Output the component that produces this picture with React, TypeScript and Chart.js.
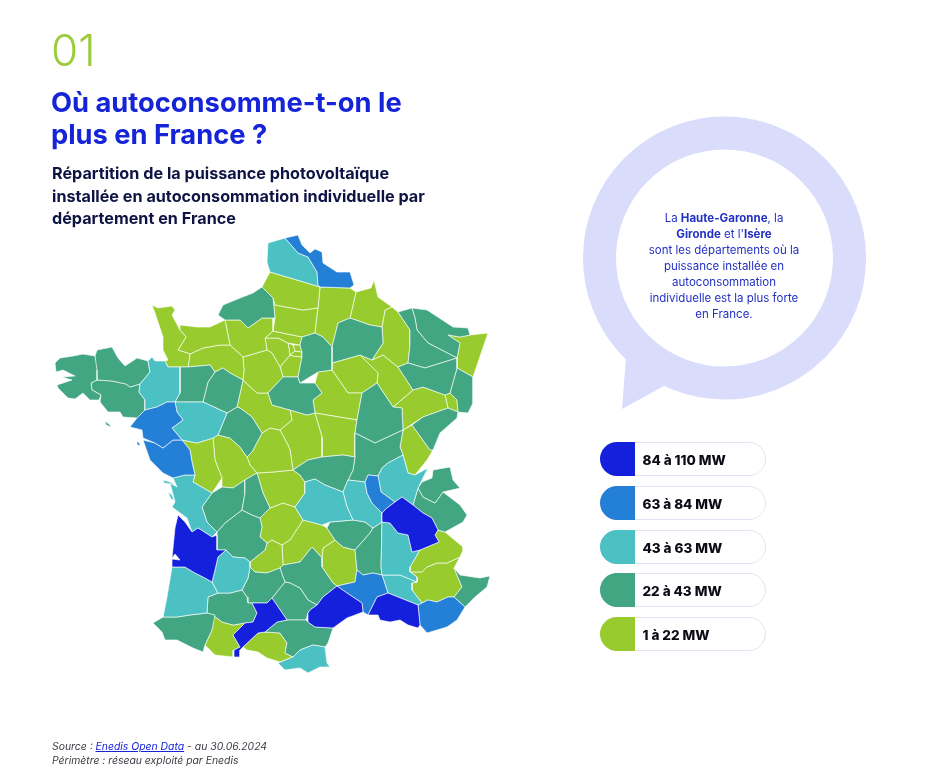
import React, { useEffect, useRef } from 'react';
import { Chart, registerables } from 'chart.js';

Chart.register(...registerables);

// departments per legend class
const band1to22 = ['Manche', 'Calvados', 'Orne', 'Eure', 'Eure-et-Loir', 'Loir-et-Cher', 'Deux-Sèvres', 'Vienne', 'Indre', 'Cher', 'Nièvre', 'Creuse', 'Corrèze', 'Lot', 'Hautes-Pyrénées', 'Ariège', 'Cantal', 'Lozère', 'Hautes-Alpes', 'Alpes-de-Haute-Provence', 'Somme', 'Aisne', 'Oise', "Val-d'Oise", 'Yvelines', 'Hauts-de-Seine', 'Seine-Saint-Denis', 'Val-de-Marne', 'Paris', 'Essonne', 'Yonne', 'Aube', 'Ardennes', 'Meuse', 'Haute-Marne', 'Haute-Saône', 'Belfort', 'Jura', 'Bas-Rhin'];
const band22to43 = ['Finistère', "Côtes-d'Armor", 'Morbihan', 'Belle-Île', 'Mayenne', 'Sarthe', 'Seine-Maritime', 'Indre-et-Loire', 'Haute-Vienne', 'Charente', 'Dordogne', 'Pyrénées-Atlantiques', 'Gers', 'Aude', 'Tarn-et-Garonne', 'Tarn', 'Aveyron', 'Allier', 'Saône-et-Loire', 'Haute-Savoie', 'Savoie', 'Ardèche', 'Haute-Loire', 'Alpes-Maritimes', 'Seine-et-Marne', 'Loiret', 'Marne', "Côte-d'Or", 'Doubs', 'Vosges', 'Meurthe-et-Moselle', 'Moselle', 'Haut-Rhin'];
const band43to63 = ['Ille-et-Vilaine', 'Maine-et-Loire', 'Charente-Maritime', 'Ré', 'Oléron', 'Lot-et-Garonne', 'Landes', 'Pyrénées-Orientales', 'Puy-de-Dôme', 'Loire', 'Ain', 'Drôme', 'Vaucluse', 'Pas-de-Calais'];
const band63to84 = ['Loire-Atlantique', 'Vendée', 'Noirmoutier', 'Rhône', 'Gard', 'Var', 'Nord'];
const band84to110 = ['Gironde', 'Haute-Garonne', 'Isère', 'Hérault', 'Bouches-du-Rhône'];

const bandMembers = [band84to110, band63to84, band43to63, band22to43, band1to22];
const bandLabels = ['84 à 110 MW', '63 à 84 MW', '43 à 63 MW', '22 à 43 MW', '1 à 22 MW'];
const bandColors = ['#1520dc', '#2380d6', '#4bc1c3', '#41a681', '#98cc2e'];

// outlines in map units, x then y
const outlines: Record<string, number[]> = {
  'Finistère': [55,363, 60,358, 73,356, 83,354, 95,356, 97,370, 97,380, 91,383, 92,390, 101,395, 99,400, 90,400, 83,393, 75,399, 68,398, 58,388, 57,385, 72,380, 62,377, 75,376, 63,370, 56,372],
  "Côtes-d'Armor": [95,356, 97,350, 112,347, 118,358, 125,366, 137,358, 148,361, 150,372, 140,384, 130,387, 126,384, 112,381, 97,380],
  'Morbihan': [91,383, 97,380, 112,381, 126,384, 130,387, 140,384, 139,392, 145,400, 145,410, 137,418, 123,417, 120,412, 108,412, 100,402, 101,395, 92,390],
  'Belle-Île': [105,421, 110,425, 111,427, 106,425],
  'Ille-et-Vilaine': [148,361, 152,357, 155,361, 165,361, 168,367, 180,367, 180,393, 175,402, 167,402, 157,407, 145,410, 145,400, 139,392, 140,384, 150,372],
  'Manche': [152,305, 158,308, 172,306, 175,310, 172,315, 180,330, 186,337, 178,350, 190,354, 188,367, 180,367, 168,367, 165,361, 168,360, 163,350, 163,337, 155,313],
  'Calvados': [180,325, 197,327, 210,327, 225,320, 230,345, 220,345, 203,348, 190,354, 178,350, 186,337, 180,330],
  'Orne': [190,354, 203,348, 220,345, 230,345, 243,357, 244,370, 243,380, 230,373, 223,368, 215,372, 210,365, 188,367],
  'Mayenne': [180,367, 188,367, 210,365, 215,372, 208,382, 203,402, 175,402, 180,393],
  'Sarthe': [215,372, 223,368, 230,373, 243,380, 237,407, 227,413, 203,402, 208,382],
  'Eure': [225,320, 240,320, 248,328, 262,318, 273,318, 273,331, 265,338, 267,350, 243,357, 230,345],
  'Seine-Maritime': [218,315, 223,305, 240,298, 253,293, 262,287, 273,298, 275,318, 262,318, 248,328, 240,320, 225,320],
  'Eure-et-Loir': [243,357, 267,350, 272,353, 280,367, 283,377, 268,393, 257,393, 243,380, 244,370],
  'Loir-et-Cher': [243,380, 257,393, 268,393, 272,405, 290,410, 292,420, 280,430, 270,428, 262,433, 252,417, 240,408, 237,407],
  'Indre-et-Loire': [218,435, 227,413, 237,407, 240,408, 252,417, 262,433, 252,452, 247,457, 240,447, 230,438],
  'Maine-et-Loire': [175,402, 203,402, 227,413, 218,435, 213,438, 197,443, 182,440, 172,428, 183,420, 177,412],
  'Loire-Atlantique': [145,410, 157,407, 167,402, 175,402, 177,412, 183,420, 172,428, 182,440, 173,440, 163,448, 155,443, 143,438, 142,430, 130,427, 137,418],
  'Vendée': [143,440, 155,443, 163,448, 173,440, 182,440, 190,450, 192,462, 195,475, 185,475, 173,478, 163,473, 150,460],
  'Noirmoutier': [137,441, 140,444, 139,446, 137,444],
  'Deux-Sèvres': [182,440, 197,443, 213,438, 215,460, 222,478, 212,493, 193,482, 195,475, 192,462, 190,450],
  'Vienne': [213,438, 218,435, 230,438, 240,447, 247,457, 250,465, 257,473, 245,480, 233,488, 222,487, 222,478, 215,460],
  'Indre': [252,452, 262,433, 270,428, 280,430, 288,445, 290,450, 293,470, 273,472, 257,473, 250,465, 247,457],
  'Cher': [290,410, 307,415, 315,413, 322,437, 322,457, 308,460, 293,470, 290,450, 288,445, 280,430, 292,420],
  'Nièvre': [315,413, 357,420, 355,433, 355,457, 343,455, 322,457, 322,437],
  'Allier': [293,470, 308,460, 322,457, 343,455, 355,457, 353,470, 348,480, 343,492, 325,485, 315,479, 305,482, 300,475],
  'Creuse': [257,473, 273,472, 293,470, 300,475, 305,482, 305,493, 295,507, 283,503, 270,508, 263,493],
  'Haute-Vienne': [245,480, 257,473, 263,493, 270,508, 260,518, 252,515, 242,510, 245,493],
  'Charente': [202,507, 212,493, 222,487, 233,488, 245,480, 245,493, 242,510, 225,523, 217,532, 207,522],
  'Charente-Maritime': [173,478, 185,475, 195,475, 193,482, 212,493, 202,507, 207,522, 217,532, 212,537, 198,528, 192,532, 187,518, 172,507, 175,502, 170,483, 177,487],
  'Ré': [163,480, 170,482, 175,484, 170,484, 164,483],
  'Oléron': [168,492, 172,495, 174,500, 171,499],
  'Gironde': [178,515, 185,522, 192,532, 198,528, 212,537, 217,535, 217,550, 226,550, 218,557, 215,570, 212,582, 205,578, 195,573, 185,567, 172,567, 172,559, 180,560, 175,554, 172,558, 175,528],
  'Dordogne': [217,532, 225,523, 242,510, 252,515, 260,518, 262,527, 260,537, 267,543, 265,550, 250,562, 245,558, 233,557, 226,550, 217,550, 217,535],
  'Corrèze': [260,518, 270,508, 283,503, 295,507, 303,520, 290,540, 282,545, 272,540, 267,543, 260,537, 262,527],
  'Lot': [267,543, 272,540, 282,545, 283,565, 280,568, 267,573, 255,572, 250,567, 250,562, 265,550],
  'Lot-et-Garonne': [215,570, 218,557, 226,550, 233,557, 245,558, 250,562, 250,567, 248,578, 242,590, 230,593, 218,593, 212,582],
  'Landes': [172,567, 185,567, 195,573, 205,578, 212,582, 218,593, 208,597, 207,613, 190,615, 177,617, 163,617, 167,597],
  'Pyrénées-Atlantiques': [153,623, 163,617, 177,617, 190,615, 207,613, 215,615, 212,630, 205,645, 203,652, 193,648, 177,640, 165,640, 162,632],
  'Gers': [208,597, 218,593, 230,593, 242,590, 247,597, 248,603, 252,603, 257,613, 253,622, 245,623, 233,625, 222,622, 213,615, 207,613],
  'Hautes-Pyrénées': [213,615, 222,622, 233,625, 245,623, 233,635, 240,647, 234,650, 233,657, 215,655, 205,645, 212,630],
  'Haute-Garonne': [252,603, 267,603, 272,598, 287,620, 277,622, 265,632, 258,633, 243,647, 240,650, 240,657, 233,657, 234,650, 240,647, 233,635, 245,623, 253,622, 257,613],
  'Ariège': [243,647, 258,633, 265,632, 280,633, 287,643, 285,653, 293,657, 280,662, 267,658, 258,652, 247,650],
  'Aude': [265,632, 277,622, 287,620, 297,620, 306,620, 308,622, 315,627, 333,628, 328,643, 325,647, 313,645, 300,650, 293,657, 285,653, 287,643, 280,633],
  'Pyrénées-Orientales': [278,663, 293,657, 300,650, 313,645, 325,647, 327,663, 330,667, 320,667, 308,673, 300,668, 285,670],
  'Tarn-et-Garonne': [248,578, 250,567, 255,572, 267,573, 280,568, 283,577, 285,582, 272,598, 267,603, 252,603, 248,603, 247,597, 242,590],
  'Tarn': [272,598, 285,582, 290,583, 300,588, 308,600, 317,605, 310,610, 308,613, 306,620, 297,620, 287,620],
  'Aveyron': [283,565, 300,562, 312,547, 322,558, 322,567, 333,583, 337,586, 323,597, 317,605, 308,600, 300,588, 290,583, 285,582, 283,577, 280,568],
  'Cantal': [303,520, 322,525, 327,528, 335,540, 323,548, 322,558, 312,547, 300,562, 283,565, 282,545, 290,540],
  'Puy-de-Dôme': [305,482, 315,479, 325,485, 343,492, 347,507, 353,520, 330,522, 322,525, 303,520, 295,507, 305,493],
  'Loire': [343,492, 348,480, 365,482, 367,493, 372,503, 382,513, 382,522, 373,528, 365,522, 353,520, 347,507],
  'Saône-et-Loire': [355,433, 375,443, 403,430, 400,447, 403,455, 388,463, 382,468, 378,476, 368,475, 365,482, 348,480, 353,470, 355,457],
  'Rhône': [365,482, 368,475, 378,476, 381,492, 395,502, 387,508, 382,513, 372,503, 367,493],
  'Ain': [382,468, 388,463, 403,455, 408,473, 415,475, 428,468, 418,488, 413,505, 402,497, 395,502, 381,492, 378,476],
  'Haute-Savoie': [418,488, 422,482, 432,478, 433,470, 450,467, 453,480, 460,488, 443,492, 435,503, 423,497],
  'Savoie': [413,505, 418,488, 423,497, 435,503, 443,492, 460,505, 467,515, 463,522, 445,532, 438,530, 432,518, 423,513],
  'Isère': [382,513, 387,508, 395,502, 402,497, 413,505, 423,513, 432,518, 438,530, 435,535, 439,542, 420,550, 412,552, 408,535, 398,533, 390,523, 382,522],
  'Ardèche': [373,528, 382,522, 381,567, 382,575, 373,573, 363,575, 357,570, 355,550, 370,533],
  'Haute-Loire': [330,522, 353,520, 365,522, 373,528, 370,533, 355,550, 343,547, 335,540, 327,528],
  'Lozère': [323,548, 335,540, 343,547, 355,550, 357,570, 355,582, 337,586, 333,583, 322,567, 322,558],
  'Gard': [337,586, 355,582, 357,570, 363,575, 373,573, 382,575, 388,593, 377,597, 368,615, 363,612, 362,603, 347,593],
  'Hérault': [308,613, 310,610, 317,605, 323,597, 337,586, 347,593, 362,603, 363,612, 347,618, 333,628, 315,627, 308,622],
  'Drôme': [382,522, 390,523, 398,533, 408,535, 412,552, 420,550, 410,567, 410,572, 417,577, 417,582, 400,575, 382,575, 381,567],
  'Vaucluse': [382,575, 400,575, 417,582, 412,583, 412,590, 422,603, 418,605, 388,593],
  'Hautes-Alpes': [435,535, 438,530, 445,532, 463,547, 463,550, 460,557, 447,563, 437,563, 427,567, 422,572, 410,572, 410,567, 420,550, 439,542],
  'Alpes-de-Haute-Provence': [410,572, 422,572, 427,567, 437,563, 447,563, 460,557, 454,568, 462,587, 454,597, 448,597, 437,602, 428,600, 422,603, 412,590, 412,583, 417,582, 417,577],
  'Alpes-Maritimes': [454,568, 460,575, 480,578, 490,576, 487,587, 475,597, 465,607, 454,597, 462,587],
  'Var': [422,603, 428,600, 437,602, 448,597, 454,597, 465,607, 457,620, 447,627, 427,633, 420,625, 418,605],
  'Bouches-du-Rhône': [368,615, 377,597, 388,593, 418,605, 420,625, 418,628, 408,625, 400,620, 390,622, 380,620, 378,615],
  'Nord': [285,238, 298,235, 302,245, 310,253, 315,249, 322,252, 323,263, 337,272, 350,272, 354,285, 350,288, 320,287, 318,285, 317,272, 308,257, 298,253],
  'Pas-de-Calais': [268,243, 285,238, 298,253, 308,257, 317,272, 318,285, 320,287, 297,280, 270,272, 267,262],
  'Somme': [270,272, 297,280, 320,287, 318,308, 303,310, 275,305, 273,298, 262,287],
  'Aisne': [320,287, 350,288, 356,292, 350,318, 338,323, 332,347, 323,337, 315,333, 318,308],
  'Oise': [273,298, 275,305, 303,310, 318,308, 315,333, 302,337, 273,331, 275,318],
  "Val-d'Oise": [265,338, 273,331, 302,337, 300,345, 288,343, 278,338],
  'Yvelines': [265,338, 278,338, 288,343, 290,355, 280,367, 272,353, 267,350],
  'Hauts-de-Seine': [288,343, 293,345, 295,351, 290,355],
  'Seine-Saint-Denis': [293,345, 300,345, 302,352, 295,351],
  'Val-de-Marne': [295,351, 302,352, 302,357, 293,356, 290,355],
  'Paris': [292,349, 296,348, 298,351, 293,352],
  'Essonne': [280,367, 290,355, 293,356, 302,357, 298,377, 283,377],
  'Seine-et-Marne': [302,337, 315,333, 323,337, 332,347, 332,363, 332,370, 318,372, 300,383, 298,377, 302,357, 302,352, 300,345],
  'Loiret': [268,393, 283,377, 298,377, 300,383, 315,383, 322,393, 313,400, 315,413, 307,415, 290,410, 272,405],
  'Yonne': [318,372, 332,370, 348,393, 362,393, 357,420, 315,413, 313,400, 322,393, 315,383],
  'Aube': [332,363, 360,355, 378,373, 377,383, 362,393, 348,393, 332,370],
  'Marne': [338,323, 350,318, 370,325, 382,327, 383,343, 372,360, 360,355, 332,363, 332,347],
  'Ardennes': [356,292, 371,288, 374,280, 378,297, 392,307, 385,310, 382,327, 370,325, 350,318],
  'Meuse': [385,310, 392,307, 398,312, 410,330, 410,345, 408,363, 398,367, 383,355, 372,360, 383,343, 382,327],
  'Haute-Marne': [372,360, 383,355, 398,367, 413,390, 393,407, 377,383, 378,373, 360,355],
  "Côte-d'Or": [362,393, 377,383, 393,407, 402,408, 403,430, 375,443, 355,433, 357,420],
  'Haute-Saône': [413,390, 423,387, 445,395, 448,408, 423,417, 403,430, 402,408, 393,407],
  'Belfort': [445,395, 450,393, 457,400, 458,412, 448,408],
  'Doubs': [412,425, 423,417, 448,408, 458,412, 457,418, 440,433, 433,450, 430,450],
  'Jura': [403,430, 412,425, 430,450, 433,450, 427,460, 415,475, 408,473, 403,455, 400,447],
  'Vosges': [398,367, 408,363, 425,368, 457,358, 457,368, 450,393, 445,395, 423,387, 413,390],
  'Meurthe-et-Moselle': [398,312, 412,308, 415,318, 417,330, 428,343, 457,358, 425,368, 408,363, 410,345, 410,330],
  'Moselle': [412,308, 427,310, 450,325, 453,327, 468,328, 470,335, 460,337, 448,335, 460,343, 457,358, 428,343, 417,330, 415,318],
  'Bas-Rhin': [448,335, 460,337, 470,335, 488,333, 473,377, 457,368, 457,358, 460,343],
  'Haut-Rhin': [457,368, 473,377, 473,403, 468,413, 458,412, 457,400, 450,393],
};

// Etang de Berre, left white on the map
const waterOutline = [395,612, 403,615, 402,620, 396,617];

const bubbleLines = ['sont les départements où la', 'puissance installée en', 'autoconsommation', 'individuelle est la plus forte', 'en France.'];

const toPoints = (flat: number[]) => {
  const pts = [];
  for (let i = 0; i < flat.length; i += 2) pts.push({ x: flat[i], y: flat[i + 1] });
  pts.push({ x: flat[0], y: flat[1] });
  return pts;
};

const polygon = (label: string, flat: number[], color: string, borderWidth: number) => ({
  label,
  data: toPoints(flat),
  showLine: true,
  fill: 'shape',
  backgroundColor: color,
  borderColor: 'rgba(255,255,255,0.9)',
  borderWidth,
  pointRadius: 0,
  tension: 0,
});

const sans = 'Inter, "Noto Sans", sans-serif';

const FranceMap: React.FC = () => {
  const canvasRef = useRef<HTMLCanvasElement>(null);

  useEffect(() => {
    if (!canvasRef.current) return;
    const datasets: any[] = [];
    bandMembers.forEach((names, i) => {
      names.forEach((name) => datasets.push(polygon(name, outlines[name], bandColors[i], 0.7)));
    });
    datasets.push(polygon('Etang de Berre', waterOutline, '#ffffff', 0));

    const chart = new Chart(canvasRef.current, {
      type: 'scatter',
      data: { datasets },
      options: {
        responsive: false,
        animation: false,
        layout: { padding: 0 },
        plugins: { legend: { display: false }, tooltip: { enabled: false } },
        scales: {
          x: { type: 'linear', display: false, min: 0, max: 931 },
          y: { type: 'linear', display: false, min: 0, max: 779, reverse: true },
        },
      },
    });
    return () => chart.destroy();
  }, []);

  return <canvas ref={canvasRef} width={931} height={779} style={{ position: 'absolute', left: 0, top: 0 }} />;
};

export default function App() {
  return (
    <div style={{ position: 'absolute', left: 0, top: 0, width: 931, height: 779, overflow: 'hidden', background: '#fff', fontFamily: sans }}>
      <FranceMap />

      <div style={{ position: 'absolute', left: 51, top: 24, fontSize: 44, lineHeight: '52px', fontWeight: 300, color: '#9ccb3b' }}>01</div>
      <div style={{ position: 'absolute', left: 51, top: 87, width: 400, fontSize: 27.3, lineHeight: '32px', fontWeight: 700, color: '#1624d8' }}>
        Où autoconsomme-t-on le<br />plus en France ?
      </div>
      <div style={{ position: 'absolute', left: 52, top: 162, width: 400, fontSize: 16.2, lineHeight: '22.5px', fontWeight: 700, color: '#0d1343' }}>
        Répartition de la puissance photovoltaïque<br />installée en autoconsommation individuelle par<br />département en France
      </div>

      <svg width={931} height={779} style={{ position: 'absolute', left: 0, top: 0 }}>
        <path d="M626 358 L622 409 L664 386 Z" fill="#d9dcfb" />
        <circle cx={724.5} cy={258} r={125} fill="none" stroke="#d9dcfb" strokeWidth={33} />
      </svg>
      <div style={{ position: 'absolute', left: 624, top: 210, width: 200, textAlign: 'center', fontSize: 11.5, lineHeight: '16px', color: '#2330c4' }}>
        La <b>Haute-Garonne</b>, la<br /><b>Gironde</b> et l'<b>Isère</b>
        {bubbleLines.map((line) => (
          <React.Fragment key={line}><br />{line}</React.Fragment>
        ))}
      </div>

      {bandLabels.map((label, i) => (
        <div key={label} style={{ position: 'absolute', left: 600, top: 442 + i * 43.75, width: 166, height: 34, boxSizing: 'border-box', border: '1px solid #e3e4f3', borderRadius: 17 }}>
          <div style={{ position: 'absolute', left: -1, top: -1, width: 35, height: 34, borderRadius: '17px 0 0 17px', background: bandColors[i] }} />
          <div style={{ position: 'absolute', left: 41.5, top: 0, lineHeight: '34px', fontSize: 13.5, fontWeight: 800, color: '#0b0b16', whiteSpace: 'nowrap' }}>{label}</div>
        </div>
      ))}

      <div style={{ position: 'absolute', left: 52, top: 740, fontSize: 10.4, lineHeight: '14px', fontStyle: 'italic', color: '#3c3c46' }}>
        Source : <a href="#" style={{ color: '#1624d8' }}>Enedis Open Data</a> - au 30.06.2024<br />Périmètre : réseau exploité par Enedis
      </div>
    </div>
  );
}
